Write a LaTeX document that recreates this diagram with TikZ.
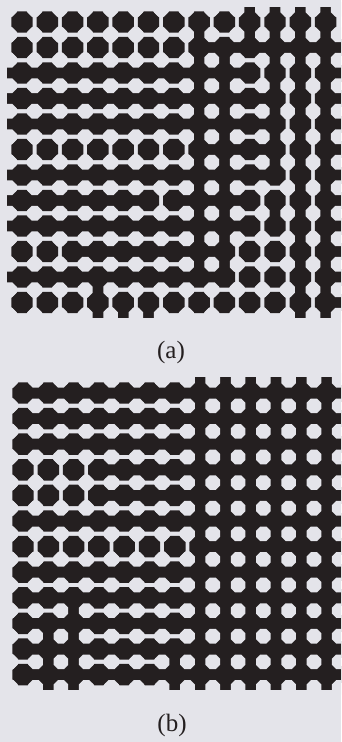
\documentclass[tikz,border=0pt]{standalone}
\usepackage{fontspec}
\setmainfont{Liberation Serif}
\usetikzlibrary{shapes.geometric}
\definecolor{ink}{RGB}{36,31,32}
\definecolor{paper}{RGB}{228,228,234}
\tikzset{
  bdot/.style={regular polygon, regular polygon sides=8, minimum size=23.2pt, inner sep=0pt, outer sep=0pt, fill=ink},
  wdot/.style={regular polygon, regular polygon sides=8, minimum size=15.8pt, inner sep=0pt, outer sep=0pt, fill=paper},
  bridge/.style={draw=ink, line width=17pt},
  tab/.style={bridge, shorten >=10pt},
  caption/.style={font=\fontsize{25}{30}\selectfont, text=ink}
}
\begin{document}
\begin{tikzpicture}[x=1pt, y=-1pt]
\useasboundingbox (0,0) rectangle (341,742);
\fill[paper] (0,0) rectangle (341,742);
\clip (0,0) rectangle (341,742);

% ---- panel (a) ----
\foreach \c in {0,...,12} \foreach \r in {0,...,11}
  \node[bdot] (a-\c-\r) at (22+25.3*\c, 22+25.5*\r) {};
\foreach \c in {0,...,12} {
  \coordinate (a-\c-top) at (22+25.3*\c, 22-25.5);
  \coordinate (a-\c-bot) at (22+25.3*\c, 22+25.5*12);
}
\foreach \r in {0,...,11} {
  \coordinate (a-left-\r) at (22-25.3, 22+25.5*\r);
  \coordinate (a-right-\r) at (22+25.3*13, 22+25.5*\r);
}
% rows joined left to right (row/first/last)
\foreach \r/\i/\j in {1/7/11, 2/0/8, 3/0/9, 4/0/9, 5/7/9, 6/0/9, 7/0/4, 7/6/8, 8/0/8, 9/2/7, 10/0/7}
  \foreach \c in {0,...,11} {
    \pgfmathtruncatemacro{\cn}{\c+1}
    \ifnum\c<\i\relax\else\ifnum\c>\j\relax\else
      \draw[bridge] (a-\c-\r.center) -- (a-\cn-\r.center);
    \fi\fi
  }
% columns joined top to bottom (column/first/last)
\foreach \c/\i/\j in {3/10/10, 7/0/9, 8/1/9, 9/0/0, 10/0/5, 10/7/7, 11/0/10, 12/0/10}
  \foreach \r in {0,...,10} {
    \pgfmathtruncatemacro{\rn}{\r+1}
    \ifnum\r<\i\relax\else\ifnum\r>\j\relax\else
      \draw[bridge] (a-\c-\r.center) -- (a-\c-\rn.center);
    \fi\fi
  }
% stubs at the edges
\foreach \r in {2,3,4,6,7,8,10} \draw[tab] (a-0-\r.center) -- (a-left-\r);
\foreach \r in {1,...,11} \draw[bridge] (a-12-\r.center) -- (a-right-\r);
\foreach \c in {9,...,12} \draw[tab] (a-\c-0.center) -- (a-\c-top);
\foreach \c in {3,4,5,11,12} \draw[tab] (a-\c-11.center) -- (a-\c-bot);
% holes
\foreach \c in {-1,...,12} \foreach \r in {-1,...,11}
  \node[wdot] (aw-\c-\r) at (34.65+25.3*\c, 34.75+25.5*\r) {};

% ---- panel (b) ----
\foreach \c in {0,...,12} \foreach \r in {0,...,11}
  \node[bdot] (b-\c-\r) at (23+25.3*\c, 393+25.6*\r) {};
\foreach \c in {0,...,12} {
  \coordinate (b-\c-top) at (23+25.3*\c, 393-25.6);
  \coordinate (b-\c-bot) at (23+25.3*\c, 393+25.6*12);
}
\foreach \r in {0,...,11}
  \coordinate (b-right-\r) at (23+25.3*13, 393+25.6*\r);
% rows joined left to right (row/first/last)
\foreach \r/\i/\j in {0/0/11, 1/0/11, 2/0/11, 3/3/11, 4/3/11, 5/0/11, 6/7/11, 7/0/11, 8/0/11, 9/0/11, 10/0/11, 11/0/11}
  \foreach \c in {0,...,11} {
    \pgfmathtruncatemacro{\cn}{\c+1}
    \ifnum\c<\i\relax\else\ifnum\c>\j\relax\else
      \draw[bridge] (b-\c-\r.center) -- (b-\cn-\r.center);
    \fi\fi
  }
% columns joined top to bottom (column/first/last)
\foreach \c/\i/\j in {1/9/10, 2/8/10, 6/10/10, 7/0/10, 8/0/10, 9/0/10, 10/0/10, 11/0/10, 12/0/10}
  \foreach \r in {0,...,10} {
    \pgfmathtruncatemacro{\rn}{\r+1}
    \ifnum\r<\i\relax\else\ifnum\r>\j\relax\else
      \draw[bridge] (b-\c-\r.center) -- (b-\c-\rn.center);
    \fi\fi
  }
% stubs at the edges
\foreach \r in {0,...,11} \draw[bridge] (b-12-\r.center) -- (b-right-\r);
\foreach \c in {7,...,12} \draw[tab] (b-\c-0.center) -- (b-\c-top);
\foreach \c in {1,2,6,7,8,9,10,11,12} \draw[tab] (b-\c-11.center) -- (b-\c-bot);
% holes
\foreach \c in {-1,...,12} \foreach \r in {-1,...,11}
  \node[wdot] (bw-\c-\r) at (35.65+25.3*\c, 405.8+25.6*\r) {};

% captions
\node[caption] (capa) at (171,352) {(a)};
\node[caption] (capb) at (172,725) {(b)};
\end{tikzpicture}
\end{document}
